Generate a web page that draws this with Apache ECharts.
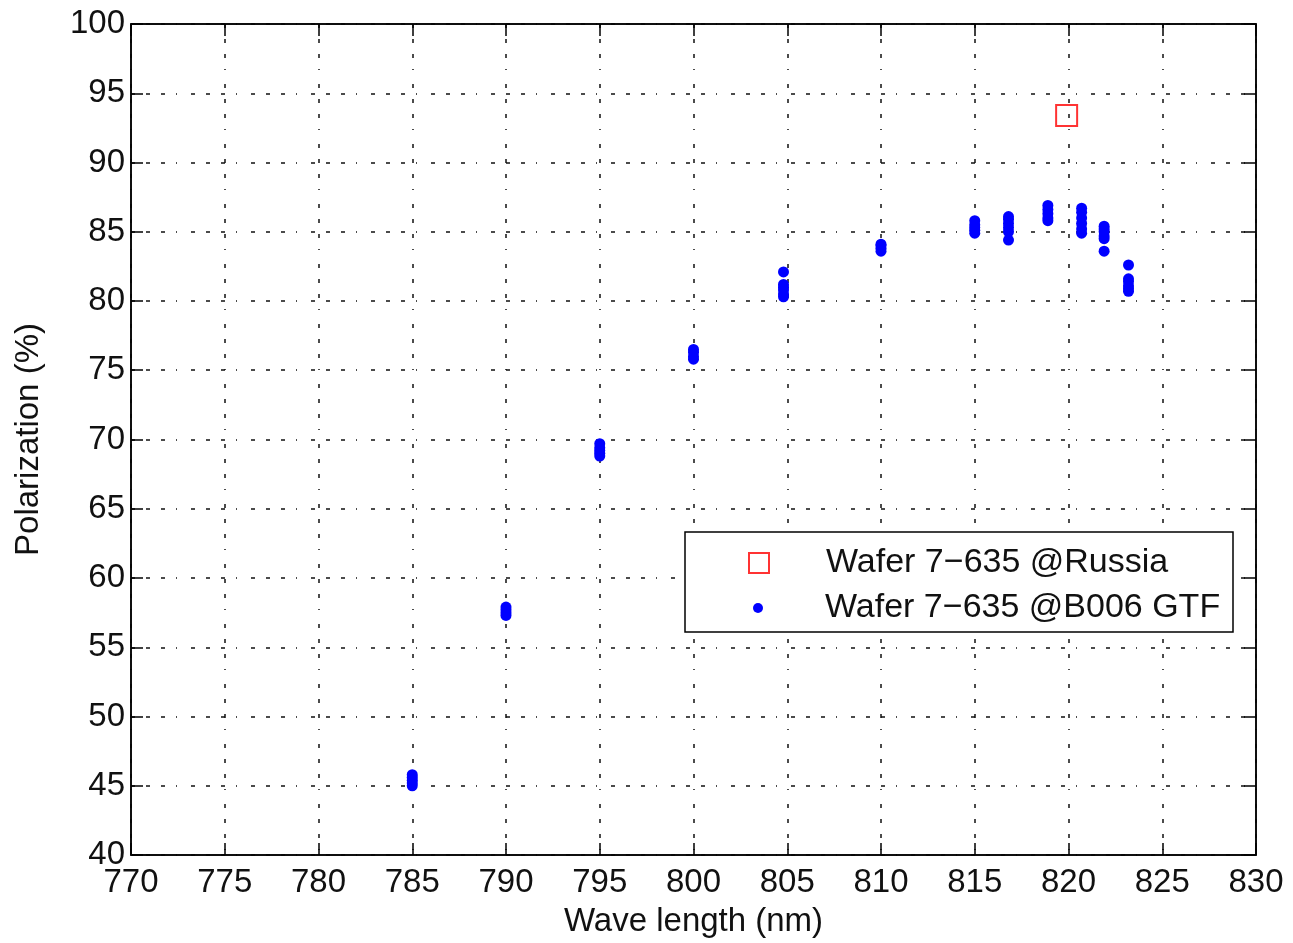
<!DOCTYPE html>
<html>
<head>
<meta charset="utf-8">
<title>Polarization vs wave length</title>
<script src="https://cdn.jsdelivr.net/npm/echarts@6/dist/echarts.min.js"></script>
<style>
  html, body { margin: 0; padding: 0; background: #fff; }
  #chart { width: 1293px; height: 943px; }
</style>
</head>
<body>
<div id="chart"></div>
<script>
// x axis ticks (nm) and y axis ticks (%)
var xMin = 770, xMax = 830, xStep = 5
var yMin = 40, yMax = 100, yStep = 5

// Wafer 7-635 @B006 GTF : each wavelength has a small cluster of readings
var w785 = [45.0, 45.2, 45.4, 45.6, 45.8]
var w790 = [57.3, 57.5, 57.7, 57.9]
var w795 = [68.8, 69.0, 69.2, 69.4, 69.7]
var w800 = [75.8, 76.0, 76.3, 76.5]
var w805 = [80.3, 80.5, 80.8, 81.0, 81.2, 82.1]
var w810 = [83.6, 83.8, 84.0, 84.1]
var w815 = [84.9, 85.1, 85.3, 85.5, 85.8]
var w817 = [84.4, 85.0, 85.3, 85.6, 85.9, 86.1]
var w819 = [85.8, 86.0, 86.3, 86.6, 86.9]
var w821 = [84.9, 85.2, 85.6, 86.0, 86.4, 86.7]
var w822 = [83.6, 84.5, 84.7, 85.0, 85.2, 85.4]
var w823 = [80.7, 80.9, 81.1, 81.4, 81.6, 82.6]
var gtfWaves = [785, 790, 795, 800, 804.8, 810, 815, 816.8, 818.9, 820.7, 821.9, 823.2]
var gtfValues = [w785, w790, w795, w800, w805, w810, w815, w817, w819, w821, w822, w823]

// Wafer 7-635 @Russia
var russiaWave = [819.9]
var russiaValue = [93.4]

var gtfData = []
gtfWaves.forEach(function (w, i) {
  gtfValues[i].forEach(function (v) { gtfData.push([w, v]) })
})
var russiaData = russiaWave.map(function (w, i) { return [w, russiaValue[i]] })

var font = 'Liberation Sans, Arial, Helvetica, sans-serif'
var gridDash = { color: '#111', width: 1.5, type: [4, 11, 4, 11, 4, 11, 1, 14] }

function axisBase(extra) {
  var a = {
    type: 'value',
    axisLine: { show: true, onZero: false, lineStyle: { color: '#000', width: 1.5 } },
    axisTick: { show: true, inside: true, length: 12, lineStyle: { color: '#000', width: 1.5 } },
    axisLabel: { color: '#111', fontSize: 33, fontFamily: font },
    splitLine: { show: false }
  }
  for (var k in extra) a[k] = extra[k]
  return a
}

var chart = echarts.init(document.getElementById('chart'))
chart.setOption({
  backgroundColor: '#fff',
  animation: false,
  grid: { left: 131, right: 37, top: 24, bottom: 86, show: true, borderColor: '#000', borderWidth: 1.5, backgroundColor: 'transparent' },
  xAxis: [
    axisBase({
      min: xMin, max: xMax, interval: xStep, position: 'bottom',
      name: 'Wave length (nm)', nameLocation: 'middle', nameGap: 50,
      nameTextStyle: { color: '#111', fontSize: 33, fontFamily: font },
      axisLabel: { color: '#111', fontSize: 33, fontFamily: font, margin: 11 },
      splitLine: { show: true, lineStyle: gridDash }
    }),
    axisBase({ min: xMin, max: xMax, interval: xStep, position: 'top', axisLabel: { show: false } })
  ],
  yAxis: [
    axisBase({
      min: yMin, max: yMax, interval: yStep, position: 'left',
      name: 'Polarization (%)', nameLocation: 'middle', nameGap: 86, nameRotate: 90,
      nameTextStyle: { color: '#111', fontSize: 33, fontFamily: font },
      axisLabel: { color: '#111', fontSize: 33, fontFamily: font, margin: 6 },
      splitLine: { show: true, lineStyle: gridDash }
    }),
    axisBase({ min: yMin, max: yMax, interval: yStep, position: 'right', axisLabel: { show: false } })
  ],
  graphic: [{
    type: 'rect', z: 3,
    shape: { x: 685, y: 532, width: 548, height: 100 },
    style: { fill: '#fff', stroke: '#000', lineWidth: 1.5 }
  }],
  legend: [
    {
      data: ['Wafer 7\u2212635 @Russia'], left: 748, top: 546, z: 5, padding: 0,
      itemWidth: 20, itemHeight: 20,
      textStyle: { color: '#111', fontSize: 34, fontFamily: font, padding: [0, 0, 0, 52] }
    },
    {
      data: ['Wafer 7\u2212635 @B006 GTF'], left: 753, top: 591, z: 5, padding: 0,
      itemWidth: 10, itemHeight: 10,
      textStyle: { color: '#111', fontSize: 34, fontFamily: font, padding: [0, 0, 0, 57] }
    }
  ],
  series: [
    {
      name: 'Wafer 7\u2212635 @Russia', type: 'scatter', symbol: 'rect', symbolSize: 21,
      itemStyle: { color: 'rgba(0,0,0,0)', borderColor: '#ff0000', borderWidth: 2 },
      data: russiaData
    },
    {
      name: 'Wafer 7\u2212635 @B006 GTF', type: 'scatter', symbol: 'circle', symbolSize: 11,
      itemStyle: { color: '#0000ff', opacity: 1 },
      data: gtfData
    }
  ]
})
</script>
</body>
</html>
